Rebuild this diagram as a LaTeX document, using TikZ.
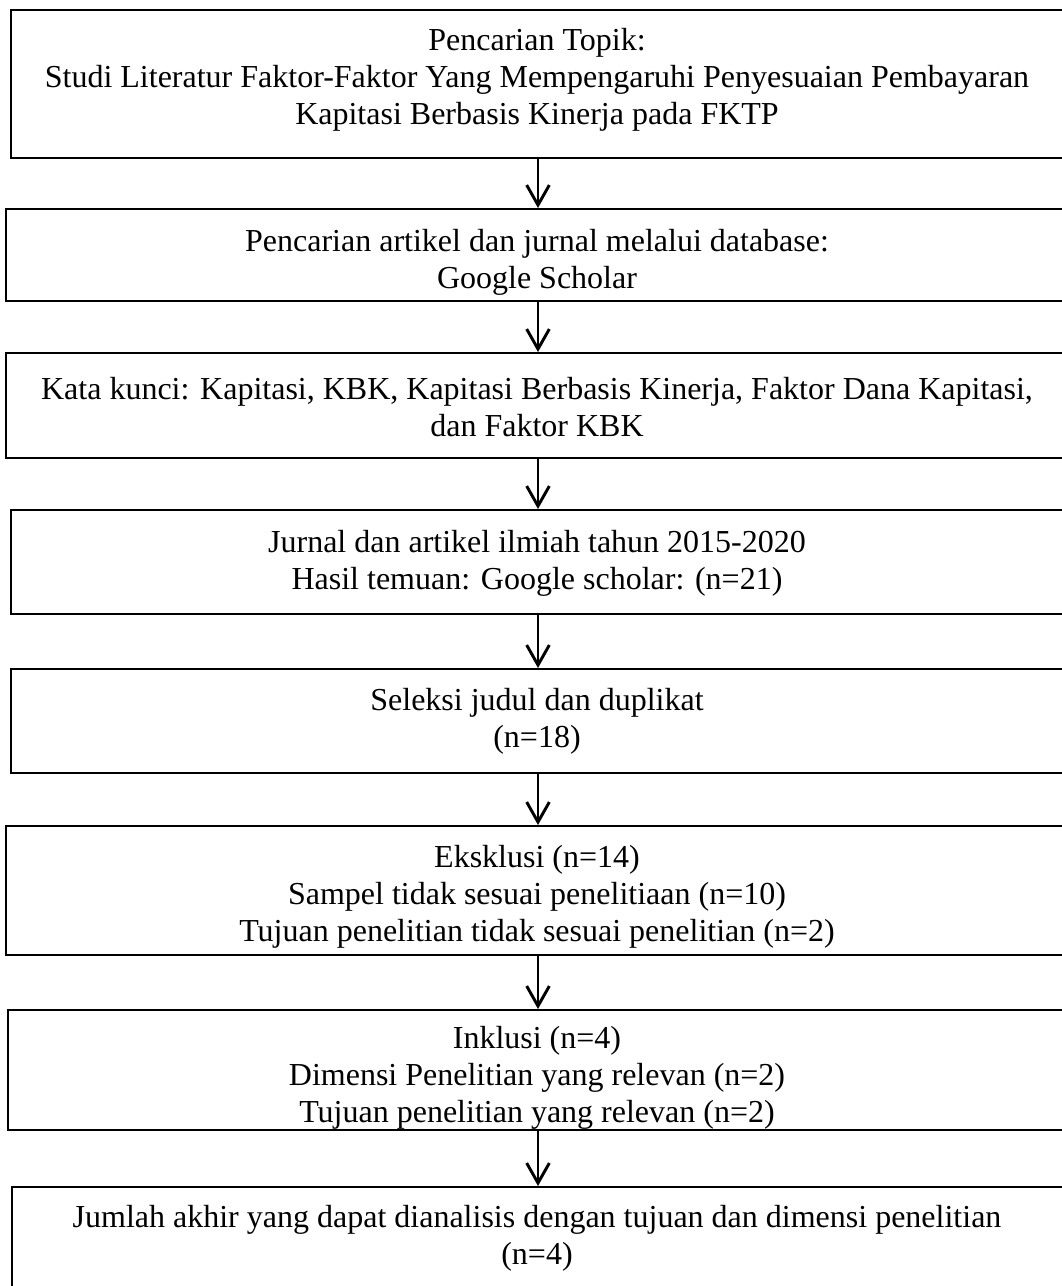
\documentclass[tikz,border=0pt]{standalone}
\usepackage{fontspec}
\setmainfont{Liberation Serif}
\usetikzlibrary{arrows.meta}
\tikzset{
  box/.style={draw, line width=1.5pt, inner sep=0pt, anchor=north west},
  txt/.style={align=center, inner sep=0pt, font=\fontsize{24}{27.75}\selectfont},
  flow/.style={line width=2.2pt, -{Straight Barb[length=15pt,width=17pt,line width=2.2pt]}}
}
\begin{document}
\begin{tikzpicture}[x=0.75pt,y=-0.75pt]
\useasboundingbox (0,0) rectangle (1062,1286);
\clip (0,0) rectangle (1062,1286);
% boxes
\node[box, minimum width=1054*0.75pt, minimum height=148*0.75pt] (b1) at (10,9) {};
\node[box, minimum width=1064*0.75pt, minimum height=92*0.75pt] (b2) at (5,208) {};
\node[box, minimum width=1064*0.75pt, minimum height=105*0.75pt] (b3) at (5,352) {};
\node[box, minimum width=1054*0.75pt, minimum height=104*0.75pt] (b4) at (10,509) {};
\node[box, minimum width=1054*0.75pt, minimum height=104*0.75pt] (b5) at (10,668) {};
\node[box, minimum width=1064*0.75pt, minimum height=129*0.75pt] (b6) at (5,825) {};
\node[box, minimum width=1060*0.75pt, minimum height=120*0.75pt] (b7) at (7,1009) {};
\node[box, minimum width=1052*0.75pt, minimum height=140*0.75pt] (b8) at (11,1186) {};
% texts
\node[txt] (t1) at (537,80) {Pencarian Topik:\\Studi Literatur Faktor-Faktor Yang Mempengaruhi Penyesuaian Pembayaran\\Kapitasi Berbasis Kinerja pada FKTP};
\node[txt] (t2) at (537,262) {Pencarian artikel dan jurnal melalui database:\\Google Scholar};
\node[txt] (t3) at (537,407) {Kata kunci: Kapitasi, KBK, Kapitasi Berbasis Kinerja, Faktor Dana Kapitasi,\\dan Faktor KBK};
\node[txt] (t4) at (537,563) {Jurnal dan artikel ilmiah tahun 2015-2020\\Hasil temuan: Google scholar: (n=21)};
\node[txt] (t5) at (537,721) {Seleksi judul dan duplikat\\(n=18)};
\node[txt] (t6) at (537,897) {Eksklusi (n=14)\\Sampel tidak sesuai penelitiaan (n=10)\\Tujuan penelitian tidak sesuai penelitian (n=2)};
\begin{scope}
\clip (0,1009) rectangle (1062,1129);
\node[txt] (t7) at (537,1078) {Inklusi (n=4)\\Dimensi Penelitian yang relevan (n=2)\\Tujuan penelitian yang relevan (n=2)};
\end{scope}
\node[txt] (t8) at (537,1238) {Jumlah akhir yang dapat dianalisis dengan tujuan dan dimensi penelitian\\(n=4)};
% connectors
\draw[flow] (b1.south) -- (b2.north);
\draw[flow] (b2.south) -- (b3.north);
\draw[flow] (b3.south) -- (b4.north);
\draw[flow] (b4.south) -- (b5.north);
\draw[flow] (b5.south) -- (b6.north);
\draw[flow] (b6.south) -- (b7.north);
\draw[flow] (b7.south) -- (b8.north);
\end{tikzpicture}
\end{document}
